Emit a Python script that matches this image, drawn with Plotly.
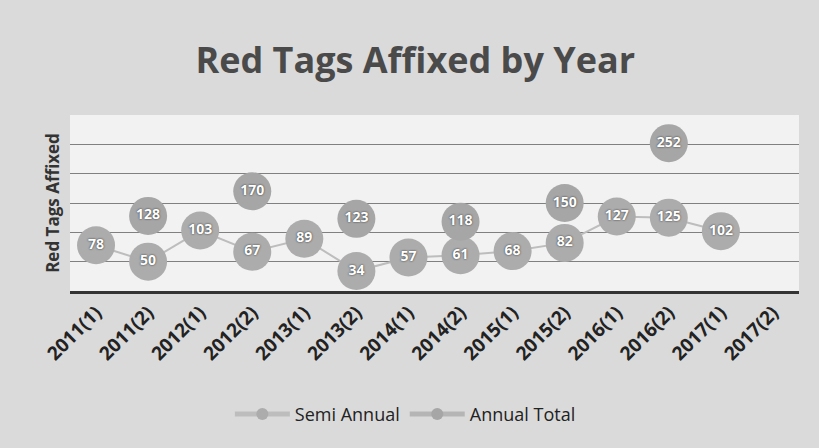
import plotly.graph_objects as go

categories = ["2011(1)", "2011(2)", "2012(1)", "2012(2)", "2013(1)", "2013(2)",
              "2014(1)", "2014(2)", "2015(1)", "2015(2)", "2016(1)", "2016(2)",
              "2017(1)", "2017(2)"]
semi_annual = [78, 50, 103, 67, 89, 34, 57, 61, 68, 82, 127, 125, 102, None]
annual_total = [None, 128, None, 170, None, 123, None, 118, None, 150, None, 252, None, None]

FONT = "Open Sans, Lato, sans-serif"

fig = go.Figure()

label_font = dict(family=FONT, size=14, color="white",
                  weight="bold", shadow="0px 0px 2px #222")

fig.add_trace(go.Scatter(
    x=categories, y=semi_annual, name="Semi Annual",
    mode="lines+markers+text",
    line=dict(color="#bdbdbd", width=2),
    marker=dict(size=38, color="#acacac", line=dict(width=0)),
    text=[str(v) if v is not None else "" for v in semi_annual],
    textposition="middle center", textfont=label_font,
    connectgaps=False,
))
fig.add_trace(go.Scatter(
    x=categories, y=annual_total, name="Annual Total",
    mode="lines+markers+text",
    line=dict(color="#b5b5b5", width=2),
    marker=dict(size=38, color="#a6a6a6", line=dict(width=0)),
    text=[str(v) if v is not None else "" for v in annual_total],
    textposition="middle center", textfont=label_font,
    connectgaps=False,
))

fig.update_layout(
    width=819, height=448,
    paper_bgcolor="#dadada",
    plot_bgcolor="#f2f2f2",
    margin=dict(l=70, r=20, t=115, b=157),
    title=dict(text="<b>Red Tags Affixed by Year</b>", x=0.507, xanchor="center",
               y=0.865, yanchor="middle",
               font=dict(family=FONT, size=36, color="#4a4a4a")),
    showlegend=True,
    legend=dict(orientation="h", x=0.46, xanchor="center", y=-0.7, yanchor="middle",
                bgcolor="rgba(0,0,0,0)", itemsizing="constant", itemwidth=55,
                font=dict(family=FONT, size=18, color="#222")),
    xaxis=dict(
        type="category", categoryorder="array", categoryarray=categories,
        range=[-0.5, len(categories) - 0.5],
        tickangle=-45, showgrid=False,
        showline=True, linecolor="#333", linewidth=3,
        ticks="", ticklen=0,
        tickfont=dict(family=FONT, size=19, color="#222", weight="bold"),
    ),
    yaxis=dict(
        range=[0, 300], dtick=50, showticklabels=False,
        showgrid=True, gridcolor="#808080", gridwidth=1,
        zeroline=False,
        title=dict(text="<b>Red Tags Affixed</b>", standoff=5,
                   font=dict(family=FONT, size=17, color="#333")),
    ),
)

fig.write_html("out.html", config={"displayModeBar": False},
               post_script="document.body.style.margin='0';")
